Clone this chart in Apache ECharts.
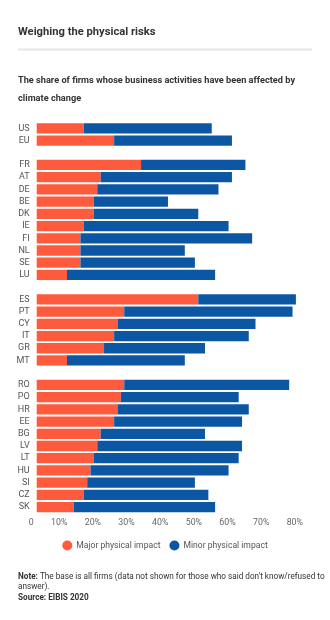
<!DOCTYPE html>
<html>
<head>
<meta charset="utf-8">
<style>
  html, body { margin: 0; padding: 0; background: #ffffff; }
  #chart { width: 330px; height: 620px; }
</style>
<script src="https://cdn.jsdelivr.net/npm/echarts@6/dist/echarts.min.js"></script>
</head>
<body>
<div id="chart"></div>
<script>
// Data (percent of firms)
const categories = ['US', 'EU', ' ',
  'FR', 'AT', 'DE', 'BE', 'DK', 'IE', 'FI', 'NL', 'SE', 'LU', '  ',
  'ES', 'PT', 'CY', 'IT', 'GR', 'MT', '   ',
  'RO', 'PO', 'HR', 'EE', 'BG', 'LV', 'LT', 'HU', 'SI', 'CZ', 'SK'];
const majorImpact = [14, 23, null,
  31, 19, 18, 17, 17, 14, 13, 13, 13, 9, null,
  48, 26, 24, 23, 20, 9, null,
  26, 25, 24, 23, 19, 18, 17, 16, 15, 14, 11];
const minorImpact = [38, 35, null,
  31, 39, 36, 22, 31, 43, 51, 31, 34, 44, null,
  29, 50, 41, 40, 30, 35, null,
  49, 35, 39, 38, 31, 43, 43, 41, 32, 37, 42];
const xTicks = [0, 10, 20, 30, 40, 50, 60, 70, 80];

const FONT = 'Roboto, "Noto Sans", sans-serif';
const chart = echarts.init(document.getElementById('chart'), null, { renderer: 'canvas' });

chart.setOption({
  animation: false,
  backgroundColor: '#ffffff',
  textStyle: { fontFamily: FONT },
  title: [
    {
      text: 'Weighing the physical risks',
      left: 18, top: 27, padding: 0,
      textStyle: { fontFamily: FONT, fontSize: 11.2, fontWeight: 'bold', color: '#333333' }
    },
    {
      text: 'The share of firms whose business activities have been affected by\nclimate change',
      left: 18, top: 72.3, padding: 0,
      textStyle: { fontFamily: FONT, fontSize: 9.2, fontWeight: 'bold', color: '#333333', lineHeight: 17.3 }
    },
    {
      text: '{b|Note:} The base is all firms (data not shown for those who said don\'t know/refused to\nanswer).\n{b|Source: EIBIS 2020}',
      left: 18, top: 571.5, padding: 0,
      textStyle: {
        fontFamily: FONT, fontSize: 8.2, fontWeight: 'normal', color: '#333333', lineHeight: 10.5,
        rich: { b: { fontFamily: FONT, fontSize: 8.2, fontWeight: 'bold', color: '#333333', lineHeight: 10.5 } }
      }
    }
  ],
  graphic: [
    { type: 'rect', shape: { x: 18, y: 48.5, width: 294, height: 2 }, style: { fill: '#e6e6e6' } }
  ],
  legend: {
    data: ['Major physical impact', 'Minor physical impact'],
    left: 'center', top: 540.5, padding: 0,
    icon: 'circle', itemWidth: 10, itemHeight: 10, itemGap: 9,
    textStyle: { fontFamily: FONT, fontSize: 8.6, color: '#555555', padding: [0, 0, 0, -1] }
  },
  grid: { left: 36.7, right: 24, top: 122.2, height: 391, containLabel: false },
  xAxis: {
    type: 'value', min: 0, max: 80, interval: 10,
    axisLine: { show: false }, axisTick: { show: false }, splitLine: { show: false },
    axisLabel: {
      fontFamily: FONT, fontSize: 8.8, color: '#666666', margin: 5,
      align: 'right', padding: [0, 3, 0, 0],
      customValues: xTicks,
      formatter: v => (v === 0 ? '0' : v + '%')
    }
  },
  yAxis: {
    type: 'category', data: categories, inverse: true,
    axisLine: { show: false }, axisTick: { show: false }, splitLine: { show: false },
    axisLabel: { fontFamily: FONT, fontSize: 9, color: '#555555', margin: 7, interval: 0 }
  },
  series: [
    {
      name: 'Major physical impact', type: 'bar', stack: 'total',
      data: majorImpact, barCategoryGap: '16%',
      itemStyle: { color: '#fe5a3d' }
    },
    {
      name: 'Minor physical impact', type: 'bar', stack: 'total',
      data: minorImpact, barCategoryGap: '16%',
      itemStyle: { color: '#0c57a3' }
    }
  ]
});
</script>
</body>
</html>
